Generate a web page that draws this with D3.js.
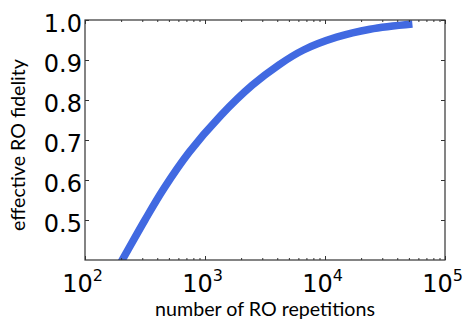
<!DOCTYPE html>
<html>
<head>
<meta charset="utf-8">
<script src="https://cdn.jsdelivr.net/npm/d3@7"></script>
<style>
  body { margin: 0; background: #fff; }
  svg { display: block; }
</style>
</head>
<body>
<script>
// chart data
var repetitions = [170, 200, 316, 455, 736, 1352, 2477, 4137, 6620, 12500, 23700, 53500];
var fidelity    = [0.358, 0.395, 0.5, 0.579, 0.669, 0.761, 0.837, 0.888, 0.925, 0.957, 0.977, 0.99];
var yTicks = [0.5, 0.6, 0.7, 0.8, 0.9, 1.0];
var xTicks = [1e2, 1e3, 1e4, 1e5];

var w = 464, h = 325;
var margin = {left: 85, right: 19, top: 20, bottom: 65};

var svg = d3.select("body").append("svg")
    .attr("width", w)
    .attr("height", h);

var x = d3.scaleLog()
    .domain([1e2, 1e5])
    .range([margin.left, w - margin.right]);

var y = d3.scaleLinear()
    .domain([0.4, 1.0])
    .range([h - margin.bottom, margin.top]);

// minor ticks 2..9 in each decade
var minor = [];
for (var e = 2; e < 5; e++) {
  for (var m = 2; m <= 9; m++) minor.push(m * Math.pow(10, e));
}

svg.append("clipPath").attr("id", "plot")
  .append("rect")
    .attr("x", margin.left)
    .attr("y", margin.top)
    .attr("width", w - margin.left - margin.right)
    .attr("height", h - margin.top - margin.bottom);

var data = repetitions.map(function(d, i) { return [d, fidelity[i]]; });

var line = d3.line()
    .x(function(d) { return x(d[0]); })
    .y(function(d) { return y(d[1]); })
    .curve(d3.curveCatmullRom.alpha(0.5));

svg.append("path")
    .datum(data)
    .attr("clip-path", "url(#plot)")
    .attr("d", line)
    .attr("fill", "none")
    .attr("stroke", "#4169e1")
    .attr("stroke-width", 7.5)
    .attr("stroke-linecap", "butt");

var axisColor = "#333";
var tickFont = "'DejaVu Sans', sans-serif";
var labelFont = "Lato, 'Open Sans', sans-serif";

function styleAxis(g) {
  g.select(".domain").remove();
  g.selectAll(".tick line").attr("stroke", axisColor);
}

// bottom axis
var gx = svg.append("g")
    .attr("transform", "translate(0," + y.range()[0] + ")")
    .call(d3.axisBottom(x).tickValues(xTicks).tickSize(-4).tickFormat(function() { return ""; }))
    .call(styleAxis);

gx.selectAll(".tick text").each(function(d) {
  var t = d3.select(this)
      .attr("x", -3)
      .attr("y", 32)
      .attr("dy", 0)
      .attr("fill", "#000")
      .style("font-family", tickFont)
      .style("font-size", "24px");
  t.append("tspan").text("10");
  t.append("tspan")
      .attr("dy", -11.5)
      .style("font-size", "16px")
      .text(Math.round(Math.log10(d)));
});

svg.append("g")
    .attr("transform", "translate(0," + y.range()[0] + ")")
    .call(d3.axisBottom(x).tickValues(minor).tickSize(-2).tickFormat(""))
    .call(styleAxis);

// top axis
svg.append("g")
    .attr("transform", "translate(0," + y.range()[1] + ")")
    .call(d3.axisTop(x).tickValues(xTicks).tickSize(-4).tickFormat(""))
    .call(styleAxis);
svg.append("g")
    .attr("transform", "translate(0," + y.range()[1] + ")")
    .call(d3.axisTop(x).tickValues(minor).tickSize(-2).tickFormat(""))
    .call(styleAxis);

// left axis
svg.append("g")
    .attr("transform", "translate(" + x.range()[0] + ",0)")
    .call(d3.axisLeft(y).tickValues(yTicks).tickSize(-4).tickPadding(3).tickFormat(d3.format(".1f")))
    .call(styleAxis)
    .selectAll(".tick text")
      .attr("dy", 11)
      .attr("fill", "#000")
      .style("font-family", tickFont)
      .style("font-size", "24px");

// right axis
svg.append("g")
    .attr("transform", "translate(" + x.range()[1] + ",0)")
    .call(d3.axisRight(y).tickValues(yTicks).tickSize(-4).tickFormat(""))
    .call(styleAxis);

// frame
svg.append("rect")
    .attr("x", x.range()[0])
    .attr("y", y.range()[1])
    .attr("width", x.range()[1] - x.range()[0])
    .attr("height", y.range()[0] - y.range()[1])
    .attr("fill", "none")
    .attr("stroke", axisColor)
    .attr("stroke-width", 1.2);

// axis titles, sized to the width they take in the reference
function fitText(sel, target) {
  var len = sel.node().getComputedTextLength();
  var fs = parseFloat(sel.style("font-size"));
  sel.style("font-size", (fs * target / len) + "px");
}

var xLabel = svg.append("text")
    .attr("x", (x.range()[0] + x.range()[1]) / 2)
    .attr("y", 316)
    .attr("text-anchor", "middle")
    .style("font-family", labelFont)
    .style("font-size", "17px")
    .text("number of RO repetitions");
fitText(xLabel, 220);

var yLabel = svg.append("text")
    .attr("transform", "translate(25,145) rotate(-90)")
    .attr("text-anchor", "middle")
    .style("font-family", labelFont)
    .style("font-size", "17px")
    .text("effective RO fidelity");
fitText(yLabel, 172);
</script>
</body>
</html>
